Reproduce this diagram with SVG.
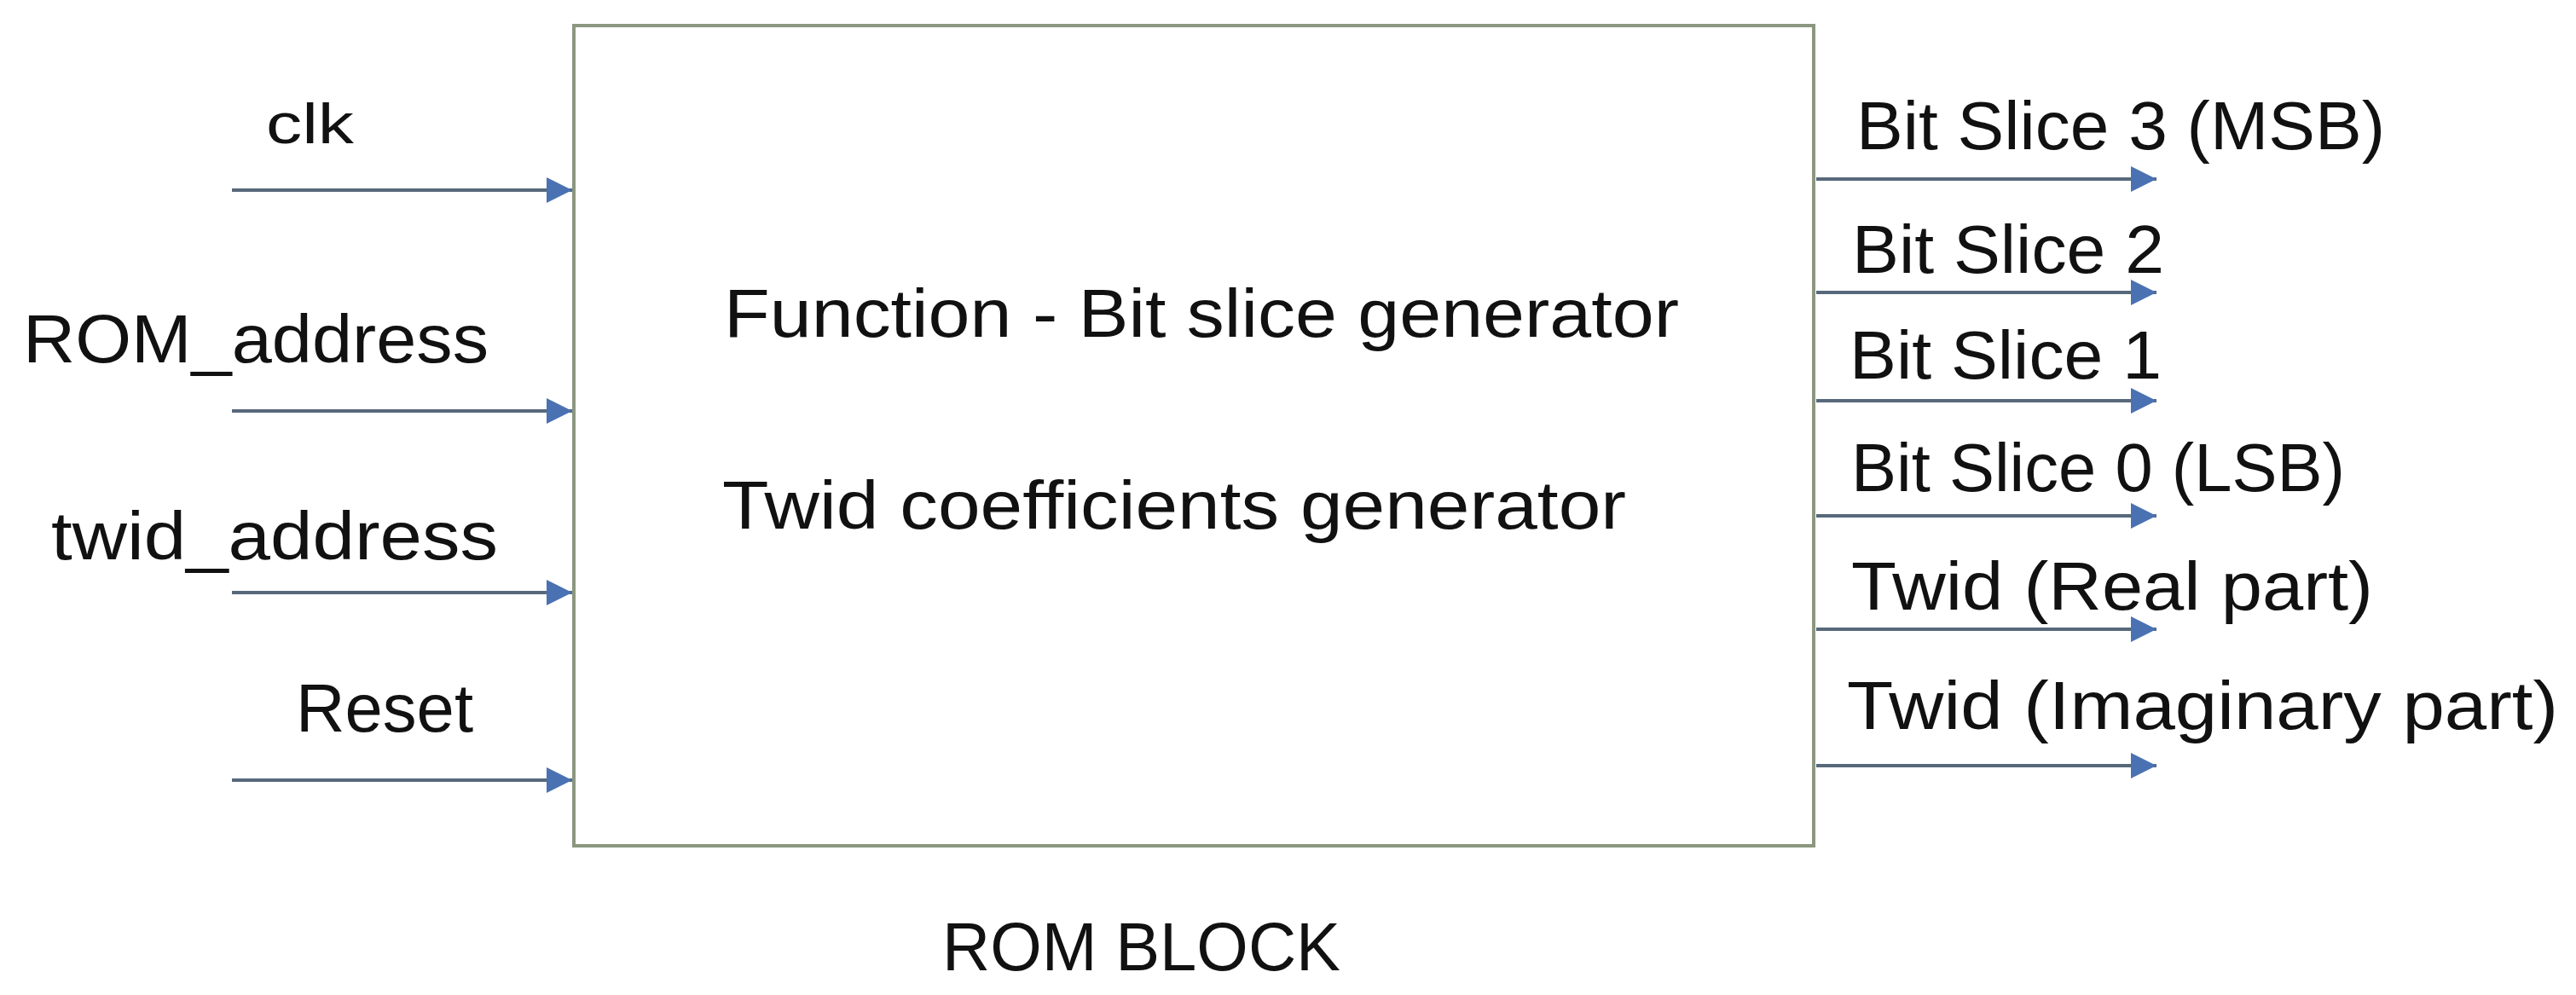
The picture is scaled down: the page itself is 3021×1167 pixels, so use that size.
<svg xmlns="http://www.w3.org/2000/svg" width="3021" height="1167" viewBox="0 0 3021 1167">
  <style>
    .lbl { font-family: "Liberation Sans", Arial, sans-serif; font-size: 80px; fill: #111111; }
    .wire { stroke: #58687c; stroke-width: 4; fill: none; }
    .block { fill: #ffffff; stroke: #8b977f; stroke-width: 4; }
  </style>
  <defs>
    <marker id="head" viewBox="0 0 30 30" markerUnits="userSpaceOnUse" markerWidth="30" markerHeight="30" refX="30" refY="15" orient="auto">
      <path d="M0,0 L30,15 L0,30 Z" fill="#4a72b3"/>
    </marker>
  </defs>
  <rect width="3021" height="1167" fill="#ffffff"/>

  <g id="rom-block">
    <rect class="block" x="673" y="30" width="1454" height="962"/>
    <text class="lbl" x="849" y="395" textLength="1120" lengthAdjust="spacingAndGlyphs">Function - Bit slice generator</text>
    <text class="lbl" x="847" y="620" textLength="1060" lengthAdjust="spacingAndGlyphs">Twid coefficients generator</text>
    <text class="lbl" x="1105" y="1138" textLength="467" lengthAdjust="spacingAndGlyphs">ROM BLOCK</text>
  </g>

  <g id="in-clk">
    <text class="lbl" x="312" y="168" style="font-size:66px" textLength="103" lengthAdjust="spacingAndGlyphs">clk</text>
  </g>
  <g id="in-rom-address">
    <text class="lbl" x="27" y="425" textLength="546" lengthAdjust="spacingAndGlyphs">ROM_address</text>
  </g>
  <g id="in-twid-address">
    <text class="lbl" x="60" y="656" textLength="524" lengthAdjust="spacingAndGlyphs">twid_address</text>
  </g>
  <g id="in-reset">
    <text class="lbl" x="347" y="858" textLength="208" lengthAdjust="spacingAndGlyphs">Reset</text>
  </g>

  <g id="out-bit3">
    <text class="lbl" x="2177" y="175" textLength="620" lengthAdjust="spacingAndGlyphs">Bit Slice 3 (MSB)</text>
  </g>
  <g id="out-bit2">
    <text class="lbl" x="2172" y="320" textLength="366" lengthAdjust="spacingAndGlyphs">Bit Slice 2</text>
  </g>
  <g id="out-bit1">
    <text class="lbl" x="2169" y="444" textLength="366" lengthAdjust="spacingAndGlyphs">Bit Slice 1</text>
  </g>
  <g id="out-bit0">
    <text class="lbl" x="2171" y="576" textLength="579" lengthAdjust="spacingAndGlyphs">Bit Slice 0 (LSB)</text>
  </g>
  <g id="out-twid-real">
    <text class="lbl" x="2171" y="715" textLength="612" lengthAdjust="spacingAndGlyphs">Twid (Real part)</text>
  </g>
  <g id="out-twid-imag">
    <text class="lbl" x="2166" y="855" textLength="834" lengthAdjust="spacingAndGlyphs">Twid (Imaginary part)</text>
  </g>

  <g id="connectors">
    <line class="wire" x1="272" y1="223" x2="671" y2="223" marker-end="url(#head)"/>
    <line class="wire" x1="272" y1="482" x2="671" y2="482" marker-end="url(#head)"/>
    <line class="wire" x1="272" y1="695" x2="671" y2="695" marker-end="url(#head)"/>
    <line class="wire" x1="272" y1="915" x2="671" y2="915" marker-end="url(#head)"/>
    <line class="wire" x1="2130" y1="210" x2="2529" y2="210" marker-end="url(#head)"/>
    <line class="wire" x1="2130" y1="343" x2="2529" y2="343" marker-end="url(#head)"/>
    <line class="wire" x1="2130" y1="470" x2="2529" y2="470" marker-end="url(#head)"/>
    <line class="wire" x1="2130" y1="605" x2="2529" y2="605" marker-end="url(#head)"/>
    <line class="wire" x1="2130" y1="738" x2="2529" y2="738" marker-end="url(#head)"/>
    <line class="wire" x1="2130" y1="898" x2="2529" y2="898" marker-end="url(#head)"/>
  </g>
</svg>
